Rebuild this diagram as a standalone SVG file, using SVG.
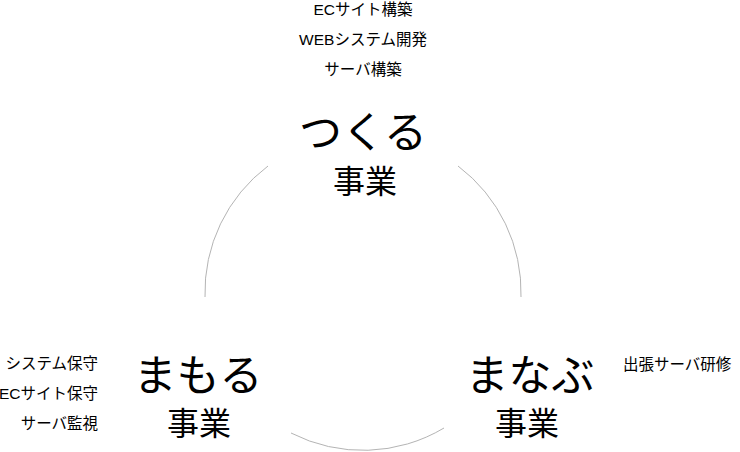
<svg xmlns="http://www.w3.org/2000/svg" width="740" height="452" viewBox="0 0 740 452">
<style>
text{font-family:"Liberation Sans","Noto Sans CJK JP",sans-serif;fill:#000}
.s{font-size:15.5px}
.b{font-size:43px;font-family:"Noto Sans CJK JP",sans-serif}
.m{font-size:32px;font-family:"Noto Sans CJK JP",sans-serif}
.arc{fill:none;stroke:#b4b4b4;stroke-width:1}
</style>
<rect width="740" height="452" fill="#fff"/>
<g id="connectors">
<path class="arc" d="M268,166 A158,158 0 0 0 205,297"/>
<path class="arc" d="M458,166 A158,158 0 0 1 521,297"/>
<path class="arc" d="M291,433 A158,158 0 0 0 444,428"/>
</g>
<g id="tsukuru" text-anchor="middle">
<text class="s" x="363" y="15">ECサイト構築</text>
<text class="s" x="363" y="45">WEBシステム開発</text>
<text class="s" x="363" y="75">サーバ構築</text>
<text class="b" x="363" y="148">つくる</text>
<text class="m" x="365" y="193">事業</text>
</g>
<g id="mamoru">
<g text-anchor="end">
<text class="s" x="98" y="369">システム保守</text>
<text class="s" x="98" y="399">ECサイト保守</text>
<text class="s" x="98" y="429">サーバ監視</text>
</g>
<g text-anchor="middle">
<text class="b" x="198" y="391">まもる</text>
<text class="m" x="199" y="435">事業</text>
</g>
</g>
<g id="manabu">
<text class="s" x="623" y="370">出張サーバ研修</text>
<g text-anchor="middle">
<text class="b" x="530" y="391">まなぶ</text>
<text class="m" x="527" y="435">事業</text>
</g>
</g>
</svg>
